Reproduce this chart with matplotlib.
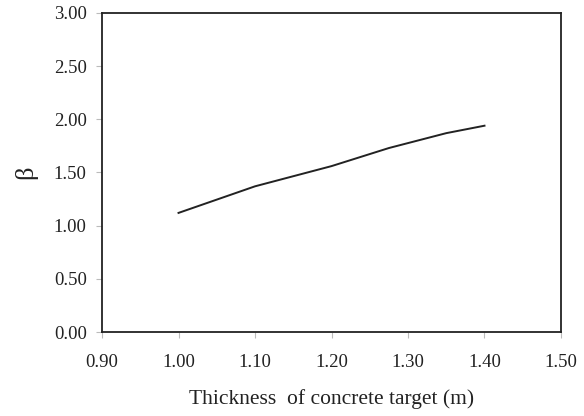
import matplotlib
matplotlib.use("Agg")
import matplotlib.pyplot as plt
from matplotlib.ticker import FormatStrFormatter

thickness = [1.00, 1.05, 1.10, 1.20, 1.275, 1.35, 1.40]
beta = [1.12, 1.245, 1.37, 1.56, 1.73, 1.87, 1.94]

plt.rcParams['font.family'] = ['Liberation Serif', 'DejaVu Serif']

fig = plt.figure(figsize=(5.84, 4.16), dpi=100)
ax = fig.add_axes([0.1747, 0.2019, 0.7859, 0.7669])
ax.plot(thickness, beta, color='#222222', lw=1.4)
ax.set_xlim(0.9, 1.5)
ax.set_ylim(0, 3.0)
ax.set_xticks([0.9, 1.0, 1.1, 1.2, 1.3, 1.4, 1.5])
ax.set_yticks([0, 0.5, 1.0, 1.5, 2.0, 2.5, 3.0])
ax.xaxis.set_major_formatter(FormatStrFormatter('%.2f'))
ax.yaxis.set_major_formatter(FormatStrFormatter('%.2f'))
for s in ax.spines.values():
    s.set_linewidth(1.3)
    s.set_color('#222222')
ax.tick_params(direction='out', length=4, width=0.8, color='#bbbbbb',
               labelsize=13.5, labelcolor='#222222')
ax.tick_params(axis='y', pad=7)
ax.tick_params(axis='x', pad=12)
ax.set_xlabel('Thickness  of concrete target (m)', fontsize=15.5, color='#222222', labelpad=13)
ax.set_ylabel('β', fontsize=19, color='#222222', labelpad=12)
fig.savefig('out.png', dpi=100)
